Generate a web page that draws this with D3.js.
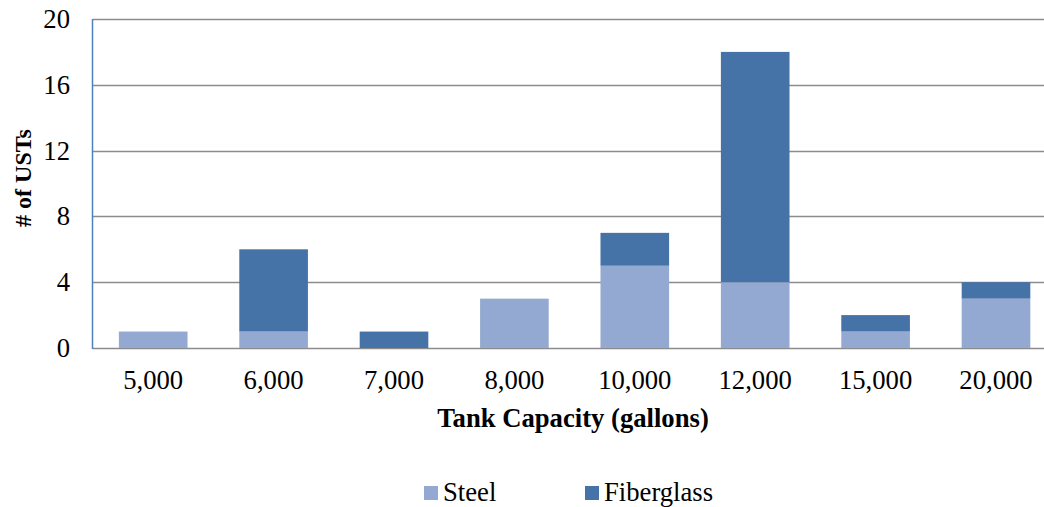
<!DOCTYPE html>
<html>
<head>
<meta charset="utf-8">
<script src="https://cdn.jsdelivr.net/npm/d3@7"></script>
<style>
  html, body { margin: 0; padding: 0; background: #fff; }
  svg { display: block; }
  svg text { font-family: "Liberation Serif", "Times New Roman", Times, "DejaVu Serif", serif; fill: #000; }
</style>
</head>
<body>
<svg id="chart" width="1044" height="507"></svg>
<script>
// Tank capacities (gallons) and counts of underground storage tanks by material
const categories = ["5,000", "6,000", "7,000", "8,000", "10,000", "12,000", "15,000", "20,000"];
const steel      = [1, 1, 0, 3, 5, 4, 1, 3];
const fiberglass = [0, 5, 1, 0, 2, 14, 1, 1];
const seriesNames = ["Steel", "Fiberglass"];
const yTicks = [0, 4, 8, 12, 16, 20];

const colors = { Steel: "#94A9D1", Fiberglass: "#4572A7" };
const fontSize = "26.67px";

const svg = d3.select("#chart");
const plotLeft = 93, plotTop = 19, plotBottom = 348;
const bandW = 120.4;

const x = d3.scaleBand()
  .domain(categories)
  .range([plotLeft, plotLeft + bandW * categories.length])
  .paddingInner(0.43)
  .paddingOuter(0.215);

const y = d3.scaleLinear().domain([0, 20]).range([plotBottom, plotTop]);

const rows = categories.map((c, i) => ({ cat: c, Steel: steel[i], Fiberglass: fiberglass[i] }));
const stacked = d3.stack().keys(seriesNames)(rows);

// Horizontal gridlines
svg.append("g")
  .selectAll("line")
  .data(yTicks)
  .join("line")
  .attr("x1", plotLeft).attr("x2", 1044)
  .attr("y1", d => Math.round(y(d)) + 0.5).attr("y2", d => Math.round(y(d)) + 0.5)
  .attr("stroke", "#8C8C8C").attr("stroke-width", 1.5);

// Stacked bars
svg.append("g")
  .selectAll("g")
  .data(stacked)
  .join("g")
  .attr("fill", d => colors[d.key])
  .selectAll("rect")
  .data(d => d)
  .join("rect")
  .attr("x", d => x(d.data.cat))
  .attr("width", x.bandwidth())
  .attr("y", d => y(d[1]))
  .attr("height", d => y(d[0]) - y(d[1]));

// Vertical axis line
svg.append("line")
  .attr("x1", plotLeft - 0.5).attr("x2", plotLeft - 0.5)
  .attr("y1", plotTop).attr("y2", plotBottom + 1)
  .attr("stroke", "#4F81BD").attr("stroke-width", 1.5);

// Y tick labels
const yAxis = d3.axisLeft(y).tickValues(yTicks).tickSize(0).tickPadding(23);
const gy = svg.append("g").attr("transform", `translate(${plotLeft},0)`).call(yAxis)
  .attr("font-family", null).attr("font-size", null);
gy.select(".domain").remove();
gy.selectAll("text").style("font-size", fontSize);

// X tick labels
const xAxis = d3.axisBottom(x).tickSize(0).tickPadding(22);
const gx = svg.append("g").attr("transform", `translate(0,${plotBottom})`).call(xAxis)
  .attr("font-family", null).attr("font-size", null);
gx.select(".domain").remove();
gx.selectAll("text").style("font-size", fontSize);

// Axis titles
svg.append("text")
  .attr("x", 573).attr("y", 427)
  .attr("text-anchor", "middle")
  .style("font-size", fontSize).style("font-weight", "bold")
  .text("Tank Capacity (gallons)");

svg.append("text")
  .attr("transform", "translate(31,178) rotate(-90)")
  .attr("text-anchor", "middle")
  .style("font-size", "24px").style("font-weight", "bold")
  .text("# of USTs");

// Legend
const legendX = [424, 585];
const legend = svg.append("g")
  .selectAll("g")
  .data(seriesNames)
  .join("g")
  .attr("transform", (d, i) => `translate(${legendX[i]},486)`);
legend.append("rect")
  .attr("width", 14).attr("height", 14)
  .attr("fill", d => colors[d]);
legend.append("text")
  .attr("x", 19).attr("y", 15)
  .style("font-size", fontSize)
  .text(d => d);
</script>
</body>
</html>
